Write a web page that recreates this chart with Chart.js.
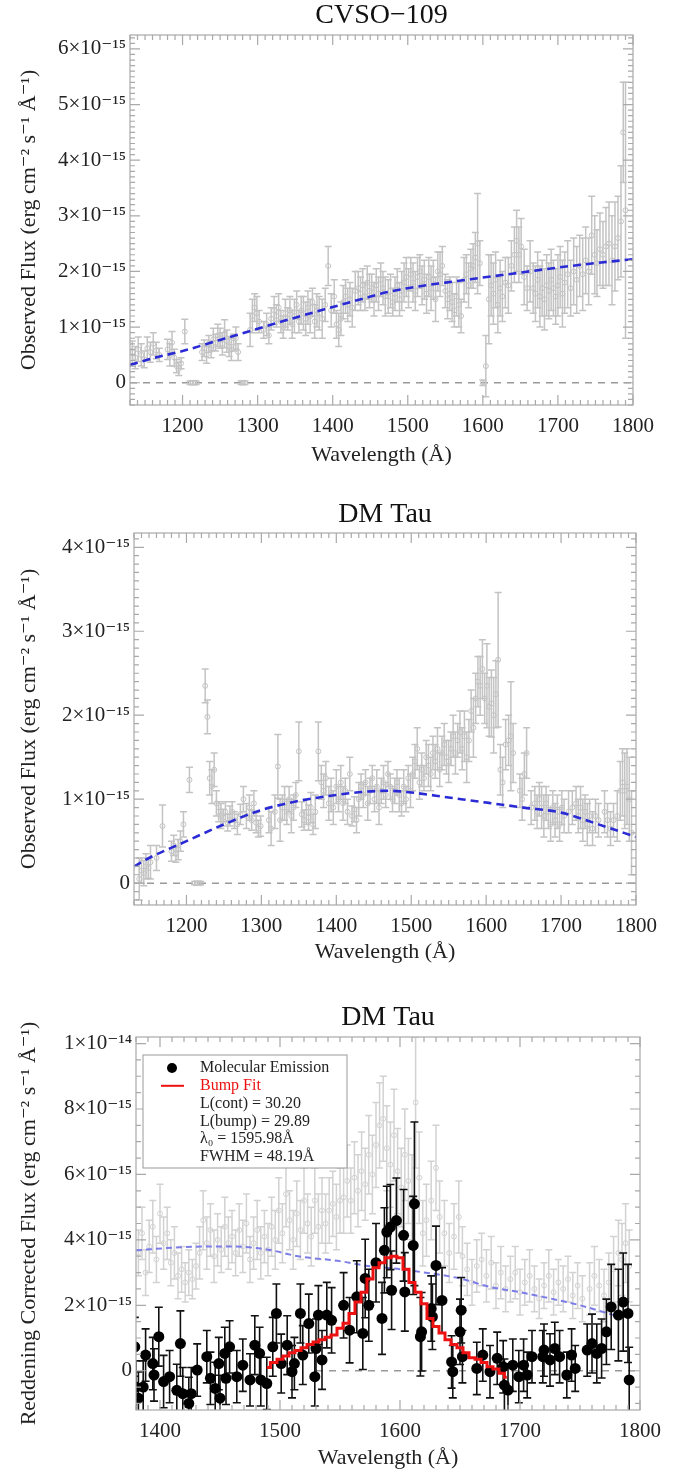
<!DOCTYPE html>
<html>
<head>
<meta charset="utf-8">
<script src="https://cdn.jsdelivr.net/npm/chart.js@4.4.1/dist/chart.umd.min.js"></script>
<style>
  html, body { margin: 0; padding: 0; background: #fff; width: 694px; height: 1474px; overflow: hidden; }
  canvas { position: absolute; left: 0; }
</style>
</head>
<body>
<canvas id="c1" width="694" height="468" style="top:0px"></canvas>
<canvas id="c2" width="694" height="485" style="top:480px"></canvas>
<canvas id="c3" width="694" height="506" style="top:965px"></canvas>
<script>
// flux values are in units of 1e-15 erg cm^-2 s^-1 A^-1

// --- CVSO-109, observed spectrum ---
const cvsoWave = [1133,1137,1141,1145,1149,1153,1157,1161,1165,1169,
  1180,1183,1186,1189,1192,1195,1198,1203,1210,1214,
  1218,1226,1229,1232,1235,1238,1241,1244,1247,1250,
  1253,1256,1259,1262,1265,1268,1271,1274,1278,1283,
  1290,1293,1296,1299,1302,1308,1312,1315,1318,1322,
  1325,1328,1331,1334,1337,1340,1343,1346,1349,1352,
  1355,1358,1361,1364,1367,1370,1373,1376,1379,1382,
  1386,1390,1394,1398,1402,1405,1408,1411,1414,1417,
  1420,1423,1426,1430,1434,1437,1440,1443,1446,1449,
  1452,1455,1458,1461,1464,1467,1470,1474,1477,1480,
  1483,1486,1489,1492,1495,1498,1501,1504,1507,1510,
  1513,1516,1519,1522,1525,1528,1531,1534,1537,1540,
  1543,1546,1550,1553,1556,1559,1562,1565,1568,1571,
  1575,1578,1581,1584,1587,1590,1593,1596,1600,1604,
  1608,1611,1614,1617,1620,1623,1626,1630,1634,1638,
  1642,1645,1648,1651,1655,1659,1663,1667,1670,1673,
  1676,1679,1682,1685,1688,1691,1694,1697,1700,1703,
  1706,1709,1713,1717,1721,1725,1729,1733,1737,1741,
  1745,1749,1752,1756,1760,1764,1768,1772,1776,1780,
  1784,1787,1790];
const cvsoFlux = [0.55,0.45,0.60,0.50,0.42,0.62,0.55,0.70,0.58,0.50,
  0.60,0.50,0.72,0.45,0.30,0.25,0.35,0.92,0.00,0.00,
  0.00,0.55,0.62,0.50,0.70,0.60,0.78,0.72,0.85,0.80,
  0.70,0.88,0.75,0.65,0.60,0.72,0.80,0.55,0.00,0.00,
  0.95,1.20,1.35,1.25,1.10,0.95,1.05,0.85,1.15,1.30,
  1.20,1.35,1.10,1.00,1.25,1.15,1.30,1.05,1.20,1.40,
  1.10,1.30,1.25,1.15,1.35,1.20,1.45,1.10,1.30,1.25,
  1.15,1.40,2.10,1.30,1.55,1.05,0.95,1.15,1.45,1.55,
  1.40,1.50,1.35,1.65,1.70,1.60,1.75,1.55,1.80,1.65,
  1.70,1.50,1.75,1.60,1.85,1.70,1.55,1.55,1.65,1.45,
  1.60,1.75,1.50,1.65,1.80,1.90,1.70,1.95,1.80,1.65,
  1.90,2.00,1.75,1.85,1.60,1.90,1.70,1.85,1.50,2.00,
  1.95,2.10,1.65,1.50,1.60,1.45,1.30,1.55,1.40,1.20,
  1.85,1.95,1.75,2.05,2.10,2.25,2.50,2.15,0.00,0.30,
  1.50,1.75,1.60,1.85,1.40,1.70,1.55,1.80,1.75,2.10,
  2.30,2.55,2.30,2.45,1.90,1.70,2.00,1.70,1.60,1.85,
  1.55,1.70,1.50,1.75,1.65,1.85,1.70,1.55,1.75,1.90,
  1.60,1.80,1.95,1.70,2.00,1.85,2.10,1.95,2.20,2.00,
  2.65,2.30,2.15,2.40,2.30,2.45,2.50,2.20,2.45,2.60,
  2.90,4.50,3.10];
const cvsoErr = [0.20,0.20,0.22,0.20,0.15,0.20,0.18,0.20,0.15,0.12,
  0.18,0.20,0.20,0.15,0.12,0.12,0.10,0.22,0.03,0.03,
  0.03,0.15,0.15,0.15,0.15,0.15,0.20,0.15,0.20,0.18,
  0.20,0.25,0.20,0.18,0.20,0.15,0.20,0.15,0.03,0.03,
  0.30,0.30,0.25,0.30,0.20,0.15,0.20,0.15,0.20,0.25,
  0.20,0.25,0.20,0.20,0.25,0.20,0.25,0.25,0.30,0.25,
  0.20,0.25,0.30,0.30,0.30,0.30,0.25,0.30,0.30,0.30,
  0.35,0.30,0.35,0.30,0.30,0.25,0.30,0.30,0.30,0.30,
  0.30,0.30,0.35,0.35,0.30,0.30,0.30,0.25,0.30,0.30,
  0.25,0.30,0.30,0.30,0.30,0.30,0.35,0.30,0.30,0.25,
  0.30,0.30,0.30,0.35,0.35,0.35,0.35,0.30,0.35,0.35,
  0.35,0.30,0.35,0.35,0.35,0.35,0.40,0.35,0.40,0.35,
  0.40,0.35,0.30,0.35,0.30,0.35,0.30,0.35,0.40,0.30,
  0.40,0.35,0.40,0.35,0.40,0.45,0.90,0.40,0.05,0.55,
  0.80,0.55,0.55,0.50,0.50,0.50,0.45,0.45,0.50,0.45,
  0.50,0.55,0.50,0.50,0.50,0.40,0.55,0.45,0.50,0.50,
  0.55,0.50,0.55,0.55,0.50,0.55,0.50,0.50,0.55,0.55,
  0.60,0.55,0.60,0.50,0.60,0.60,0.55,0.65,0.60,0.60,
  0.70,0.70,0.60,0.65,0.60,0.70,0.75,0.80,0.80,0.75,
  1.00,0.90,2.30];
const cvsoModelWave = [1130,1160,1200,1250,1300,1350,1400,1440,1470,1500,1550,1600,1650,1700,1750,1800];
const cvsoModelFlux = [0.32,0.44,0.57,0.77,0.97,1.17,1.36,1.51,1.62,1.70,1.80,1.89,1.98,2.07,2.15,2.22];

// --- DM Tau, observed spectrum ---
const dmWave = [1137,1140,1143,1146,1149,1152,1160,1168,1180,1183,
  1186,1189,1192,1196,1204,1211,1215,1219,1225,1228,
  1231,1234,1237,1240,1243,1246,1249,1252,1255,1258,
  1261,1264,1268,1272,1276,1280,1284,1287,1290,1293,
  1296,1299,1310,1313,1318,1322,1325,1328,1331,1334,
  1337,1340,1343,1346,1350,1354,1357,1360,1363,1366,
  1369,1372,1376,1380,1383,1386,1390,1393,1396,1400,
  1403,1406,1409,1412,1415,1418,1421,1424,1427,1430,
  1433,1436,1439,1442,1445,1448,1451,1454,1457,1460,
  1463,1466,1469,1472,1475,1478,1481,1484,1487,1490,
  1493,1496,1499,1502,1505,1508,1511,1514,1517,1520,
  1523,1526,1529,1532,1535,1538,1541,1544,1547,1550,
  1553,1556,1559,1562,1565,1568,1571,1574,1577,1580,
  1583,1586,1589,1592,1595,1598,1601,1604,1607,1610,
  1613,1616,1619,1622,1626,1630,1633,1636,1645,1648,
  1651,1654,1660,1665,1668,1671,1674,1677,1680,1683,
  1686,1689,1692,1695,1698,1701,1704,1710,1715,1720,
  1723,1726,1729,1732,1735,1738,1742,1746,1750,1758,
  1762,1766,1770,1775,1779,1782,1785,1788,1791,1794];
const dmFlux = [0.05,0.15,0.12,0.20,0.18,0.25,0.30,0.68,0.38,0.45,
  0.35,0.40,0.50,0.70,1.23,0.00,0.00,0.00,2.35,1.98,
  1.25,1.15,1.35,0.95,0.85,0.80,0.78,0.85,0.72,0.80,
  0.85,0.75,0.70,0.82,1.00,0.80,0.90,0.75,0.95,0.72,
  0.65,0.68,0.75,0.65,0.85,1.39,0.75,0.90,0.95,0.85,
  1.00,0.80,0.90,1.05,1.57,0.82,0.75,0.85,0.78,0.90,
  0.70,0.85,1.57,1.20,1.10,1.25,0.95,1.05,0.90,1.15,
  1.00,1.20,0.95,1.10,0.85,1.30,0.80,0.88,0.75,1.00,
  1.15,1.05,1.20,0.95,1.10,1.25,1.00,1.15,0.90,1.10,
  1.20,1.05,1.30,1.15,1.00,1.10,1.20,1.05,0.95,1.15,
  1.00,1.25,1.10,1.30,1.45,1.60,1.20,1.35,1.25,1.50,
  1.40,1.30,1.55,1.45,1.60,1.35,1.55,1.65,1.50,1.45,
  1.60,1.75,1.55,1.70,1.80,1.60,1.75,1.50,1.70,2.05,
  1.85,2.20,2.40,2.35,2.55,2.20,2.35,2.10,2.14,2.00,
  2.25,2.66,1.35,1.20,1.65,1.70,1.75,1.55,1.10,1.00,
  1.30,1.55,0.90,0.95,0.85,1.00,0.90,0.80,0.95,0.85,
  0.70,0.90,0.75,0.85,0.70,0.90,0.80,0.85,0.90,0.95,
  0.80,0.90,0.75,0.85,0.70,0.80,0.65,0.80,0.75,0.85,
  0.75,0.65,0.75,0.80,1.10,1.20,1.10,1.15,1.00,0.60];
const dmErr = [0.25,0.15,0.15,0.15,0.12,0.20,0.15,0.25,0.12,0.12,
  0.10,0.12,0.12,0.15,0.15,0.02,0.02,0.02,0.20,0.20,
  0.20,0.20,0.20,0.15,0.12,0.15,0.10,0.12,0.10,0.12,
  0.12,0.10,0.12,0.12,0.15,0.15,0.15,0.12,0.15,0.12,
  0.10,0.12,0.15,0.20,0.20,0.38,0.25,0.15,0.20,0.15,
  0.15,0.20,0.15,0.15,0.35,0.15,0.12,0.15,0.15,0.18,
  0.12,0.20,0.35,0.20,0.20,0.20,0.20,0.20,0.20,0.20,
  0.15,0.20,0.20,0.15,0.15,0.20,0.12,0.15,0.15,0.20,
  0.15,0.15,0.15,0.20,0.15,0.15,0.15,0.20,0.20,0.15,
  0.20,0.15,0.15,0.15,0.15,0.15,0.15,0.20,0.15,0.20,
  0.15,0.15,0.20,0.20,0.20,0.25,0.20,0.20,0.15,0.20,
  0.25,0.20,0.20,0.20,0.25,0.20,0.20,0.25,0.20,0.25,
  0.20,0.25,0.25,0.20,0.25,0.25,0.30,0.30,0.25,0.25,
  0.35,0.30,0.30,0.35,0.35,0.30,0.50,0.35,0.40,0.45,
  0.40,0.80,0.30,0.30,0.30,0.30,0.65,0.35,0.20,0.25,
  0.25,0.30,0.20,0.20,0.20,0.20,0.25,0.25,0.20,0.20,
  0.20,0.20,0.20,0.20,0.20,0.20,0.20,0.25,0.20,0.20,
  0.20,0.25,0.25,0.20,0.25,0.20,0.20,0.20,0.20,0.25,
  0.20,0.20,0.20,0.30,0.35,0.40,0.45,0.45,0.50,0.50];
const dmModelWave = [1130,1150,1200,1250,1300,1350,1400,1440,1470,1500,1550,1600,1650,1700,1750,1800];
const dmModelFlux = [0.20,0.30,0.50,0.70,0.87,0.98,1.05,1.09,1.10,1.08,1.02,0.96,0.90,0.84,0.70,0.55];

// --- DM Tau, reddening corrected (grey) ---
const corrWave = [1382,1385,1388,1391,1394,1397,1400,1403,1406,1409,
  1412,1415,1418,1421,1424,1427,1430,1433,1436,1439,
  1442,1445,1448,1451,1454,1457,1460,1463,1466,1469,
  1472,1475,1478,1481,1484,1487,1490,1493,1496,1499,
  1502,1505,1508,1511,1514,1517,1520,1523,1526,1529,
  1532,1535,1538,1541,1544,1547,1550,1553,1556,1559,
  1562,1565,1568,1571,1574,1577,1580,1583,1586,1589,
  1592,1595,1598,1601,1604,1607,1610,1613,1616,1619,
  1622,1626,1630,1633,1637,1641,1645,1649,1652,1656,
  1660,1664,1668,1672,1676,1680,1684,1688,1692,1696,
  1700,1704,1708,1712,1716,1720,1724,1728,1732,1736,
  1740,1744,1748,1752,1758,1762,1766,1770,1774,1778,
  1782,1785,1788,1791];
const corrFlux = [3.6,4.2,3.0,3.8,4.4,3.4,4.8,3.9,4.2,3.3,
  3.6,2.9,3.1,2.7,3.0,2.8,3.2,3.6,4.6,3.9,
  4.3,3.5,4.0,3.7,4.4,3.9,4.1,3.6,4.3,3.8,
  4.5,3.4,3.9,4.3,3.6,4.1,3.7,4.4,4.0,4.9,
  4.2,5.4,4.6,4.0,4.8,4.3,5.2,4.5,4.1,5.2,
  4.4,4.9,4.5,4.9,5.1,4.7,5.2,5.3,5.8,5.2,
  5.9,5.5,6.1,5.7,6.6,6.0,6.9,7.5,7.7,6.8,
  6.3,7.2,6.1,5.6,6.6,5.8,5.3,8.2,5.9,4.2,
  4.6,5.2,6.2,4.7,4.2,3.6,4.1,4.7,3.5,3.1,
  2.7,3.2,3.4,2.9,3.3,2.6,3.0,2.5,2.8,3.0,
  2.4,2.7,2.9,2.5,2.2,2.6,2.9,2.4,2.7,2.5,
  2.8,2.3,2.6,2.2,2.5,2.9,2.6,2.3,2.7,3.1,
  3.6,3.4,3.9,3.2];
const corrErr = [0.7,0.8,0.7,0.8,0.8,0.7,0.9,0.8,0.8,0.7,
  0.8,0.7,0.7,0.6,0.7,0.6,0.7,0.8,0.9,0.8,
  0.8,0.8,0.8,0.7,0.9,0.8,0.8,0.7,0.8,0.8,
  0.9,0.7,0.8,0.9,0.8,0.8,0.8,0.9,0.9,1.0,
  0.9,1.0,0.9,0.9,1.0,0.9,1.0,0.9,0.9,1.0,
  1.0,1.0,0.9,1.0,1.0,1.0,1.0,1.1,1.1,1.0,
  1.1,1.1,1.2,1.1,1.2,1.2,1.3,1.3,1.3,1.3,
  1.3,1.4,1.3,1.2,1.4,1.3,1.3,2.0,1.4,1.0,
  1.1,1.2,1.3,1.1,1.0,0.9,1.0,1.1,0.9,0.8,
  0.7,0.8,0.8,0.8,0.8,0.7,0.8,0.7,0.7,0.8,
  0.7,0.7,0.8,0.7,0.6,0.7,0.8,0.7,0.7,0.7,
  0.7,0.7,0.7,0.7,0.8,0.9,0.8,0.8,0.9,1.0,
  1.0,1.1,1.2,1.1];
const corrModelWave = [1380,1420,1460,1490,1515,1550,1570,1600,1650,1675,1700,1720,1750,1778];
const corrModelFlux = [3.68,3.78,3.80,3.70,3.50,3.35,3.22,3.10,2.82,2.56,2.40,2.25,2.00,1.70];

// --- DM Tau, molecular emission (black) ---
const molWave = [1379,1380,1382,1386,1388,1394,1395,1399,1403,1408,
  1414,1417,1419,1424,1426,1431,1439,1442,1446,1449,
  1450,1454,1455,1458,1464,1469,1475,1479,1483,1484,
  1489,1494,1497,1501,1506,1510,1512,1517,1519,1524,
  1529,1530,1532,1535,1539,1543,1553,1558,1564,1569,
  1571,1574,1580,1585,1587,1589,1592,1593,1597,1603,
  1604,1611,1612,1617,1618,1626,1627,1630,1635,1643,
  1644,1650,1651,1652,1664,1669,1675,1681,1686,1687,
  1690,1694,1699,1703,1706,1710,1719,1720,1725,1729,
  1733,1739,1743,1746,1756,1760,1764,1768,1772,1776,
  1782,1786,1790,1791];
const molFlux = [0.73,-0.50,-0.84,-0.50,0.48,0.22,-0.13,1.04,-0.33,-0.18,
  -0.60,0.83,-0.70,-1.00,-0.70,0.02,0.43,-0.23,-0.54,0.22,
  -0.84,0.53,-0.23,0.73,-0.18,0.17,-0.28,0.78,0.53,-0.28,
  -0.39,0.73,1.75,0.22,0.78,-0.03,0.22,1.75,0.48,1.44,
  -0.18,0.68,1.70,0.33,1.70,1.54,2.00,1.24,2.26,1.14,
  2.82,2.00,3.30,1.60,3.68,4.24,4.39,2.46,4.59,4.14,
  2.41,3.83,5.10,1.04,1.19,1.90,1.65,3.22,2.15,0.27,
  -0.03,1.19,1.85,0.43,0.07,0.48,-0.03,0.38,0.12,-0.44,
  -0.59,0.17,-0.18,0.17,-0.13,0.43,0.43,0.63,0.33,0.68,
  0.43,-0.13,0.48,0.07,0.63,0.83,0.53,0.68,1.19,1.95,
  1.70,2.10,1.75,-0.28];
const molErr = [0.9,0.8,0.8,0.8,0.8,0.8,0.8,0.9,0.8,0.8,
  0.8,1.0,0.8,0.8,0.8,0.8,0.8,0.8,0.8,0.8,
  0.7,0.8,0.8,0.8,0.8,0.8,0.8,0.9,0.8,0.8,
  0.8,0.9,0.9,0.9,0.9,0.8,0.8,0.9,0.9,0.9,
  0.9,0.9,0.9,0.9,1.0,1.0,1.0,1.0,1.1,1.1,
  1.2,1.1,1.2,1.1,1.3,1.4,1.3,1.2,1.3,1.4,
  1.2,1.5,2.5,1.2,1.2,1.0,1.0,1.2,1.0,0.8,
  0.8,1.0,1.0,0.8,0.8,0.8,0.8,0.8,0.8,0.8,
  0.8,0.8,0.8,0.8,0.7,0.8,0.8,0.8,0.8,0.8,
  0.8,0.7,0.8,0.7,0.8,0.9,0.9,0.9,1.0,1.3,
  1.4,1.5,1.5,1.0];

// --- bump fit (red step line) ---
const bumpWave = [1489,1495,1500,1505,1510,1515,1520,1525,1530,1535,1540,1545,1550,1555,1560,1565,1570,1575,1580,1585,1590,1595,1600,1605,1610,1615,1620,1625,1630,1635,1640,1645,1650,1655,1660,1665,1670,1675,1680,1685,1689];
const bumpFlux = [0.10,0.25,0.35,0.45,0.55,0.62,0.70,0.80,0.88,0.95,1.02,1.09,1.30,1.45,1.75,2.10,2.40,2.80,3.15,3.30,3.45,3.50,3.45,3.10,2.70,2.40,2.05,1.60,1.35,1.15,0.95,0.80,0.70,0.55,0.40,0.35,0.25,0.12,0.05,-0.08,-0.20];

// axis ticks
const xTicksFull = [1200, 1300, 1400, 1500, 1600, 1700, 1800];
const xTicksZoom = [1400, 1500, 1600, 1700, 1800];
const yTicksCvso = [0, 1, 2, 3, 4, 5, 6];
const yTicksDm = [0, 1, 2, 3, 4];
const yTicksCorr = [0, 2, 4, 6, 8, 10];

const legendLines = ['L(cont) = 30.20', 'L(bump) = 29.89', 'λ₀ = 1595.98Å', 'FWHM = 48.19Å'];

Chart.defaults.font.family = '"Liberation Serif", "DejaVu Serif", serif';
Chart.defaults.color = '#222';

const pts = (xs, ys) => xs.map((x, i) => ({ x, y: ys[i] }));

function fluxLabel(v) {
  if (v === 0) return '0';
  if (v >= 10) return (v / 10) + '×10⁻¹⁴';
  return v + '×10⁻¹⁵';
}

// vertical error bars, drawn just before their own dataset
const errorBars = {
  id: 'errorBars',
  beforeDatasetDraw(chart, args) {
    const ds = chart.data.datasets[args.index];
    if (!ds.errors) return;
    const { ctx, chartArea: a, scales: { y } } = chart;
    ctx.save();
    ctx.beginPath();
    ctx.rect(a.left, a.top, a.width, a.height);
    ctx.clip();
    ctx.strokeStyle = ds.errorColor;
    ctx.lineWidth = ds.errorWidth;
    const cap = ds.errorCap;
    args.meta.data.forEach((p, i) => {
      const v = ds.data[i].y, e = ds.errors[i];
      const lo = y.getPixelForValue(v - e), hi = y.getPixelForValue(v + e);
      ctx.beginPath();
      ctx.moveTo(p.x, lo); ctx.lineTo(p.x, hi);
      ctx.moveTo(p.x - cap, lo); ctx.lineTo(p.x + cap, lo);
      ctx.moveTo(p.x - cap, hi); ctx.lineTo(p.x + cap, hi);
      ctx.stroke();
    });
    ctx.restore();
  }
};

// box frame with inward major/minor ticks on all four sides
const frame = {
  id: 'frame',
  afterDatasetsDraw(chart, args, o) {
    const { ctx, chartArea: a, scales: { x, y } } = chart;
    ctx.save();
    ctx.strokeStyle = '#a9a9a9';
    ctx.lineWidth = 1.2;
    ctx.strokeRect(a.left, a.top, a.width, a.height);
    ctx.beginPath();
    for (let k = Math.ceil(x.min / o.xMinor); k * o.xMinor <= x.max; k++) {
      const v = k * o.xMinor, px = x.getPixelForValue(v);
      const len = o.xMajor.includes(v) ? 10 : 5;
      ctx.moveTo(px, a.bottom); ctx.lineTo(px, a.bottom - len);
      ctx.moveTo(px, a.top); ctx.lineTo(px, a.top + len);
    }
    for (let k = Math.ceil(y.min / o.yMinor - 1e-9); k * o.yMinor <= y.max + 1e-9; k++) {
      const v = Math.round(k * o.yMinor * 1000) / 1000, py = y.getPixelForValue(v);
      const len = o.yMajor.includes(v) ? 10 : 5;
      ctx.moveTo(a.left, py); ctx.lineTo(a.left + len, py);
      ctx.moveTo(a.right, py); ctx.lineTo(a.right - len, py);
    }
    ctx.stroke();
    ctx.restore();
  }
};

// boxed legend with fit parameters (bottom panel only)
const fitLegend = {
  id: 'fitLegend',
  afterDatasetsDraw(chart, args, o) {
    if (!o.show) return;
    const { ctx, chartArea: a } = chart;
    const bx = a.left + 7, by = a.top + 18, bw = 204, bh = 113;
    ctx.save();
    ctx.fillStyle = '#fff';
    ctx.fillRect(bx, by, bw, bh);
    ctx.strokeStyle = '#999';
    ctx.lineWidth = 1;
    ctx.strokeRect(bx, by, bw, bh);
    ctx.font = '16px "Liberation Serif", serif';
    ctx.textBaseline = 'middle';
    const tx = bx + 57, step = 17.8;
    let ty = by + 13;
    ctx.fillStyle = '#000';
    ctx.beginPath(); ctx.arc(bx + 29, ty, 5, 0, Math.PI * 2); ctx.fill();
    ctx.fillStyle = '#222';
    ctx.fillText('Molecular Emission', tx, ty);
    ty += step;
    ctx.strokeStyle = '#ee1111'; ctx.lineWidth = 2;
    ctx.beginPath(); ctx.moveTo(bx + 18, ty); ctx.lineTo(bx + 41, ty); ctx.stroke();
    ctx.fillStyle = '#ee1111';
    ctx.fillText('Bump Fit', tx, ty);
    ctx.fillStyle = '#222';
    o.lines.forEach(t => { ty += step; ctx.fillText(t, tx, ty); });
    ctx.restore();
  }
};

function panel(id, p) {
  return new Chart(document.getElementById(id), {
    type: 'scatter',
    data: { datasets: p.datasets },
    options: {
      responsive: false,
      animation: false,
      layout: { padding: { left: 0, right: p.right, top: 0, bottom: 0 } },
      plugins: {
        legend: { display: false },
        tooltip: { enabled: false },
        title: {
          display: true, text: p.title, fullSize: false, color: '#111',
          font: { size: 28, weight: 'normal', lineHeight: 1 },
          padding: { top: p.titleTop, bottom: p.titleBottom }
        },
        frame: { xMinor: p.xMinor, yMinor: p.yMinor, xMajor: p.xTicks, yMajor: p.yTicks },
        fitLegend: { show: !!p.legend, lines: legendLines }
      },
      scales: {
        x: {
          type: 'linear', min: p.xMin, max: p.xMax,
          afterBuildTicks: s => { s.ticks = p.xTicks.map(v => ({ value: v })); },
          afterFit: s => { s.height = p.xHeight; },
          grid: { display: false, drawTicks: false },
          border: { display: false },
          ticks: { color: '#222', font: { size: 21 }, padding: 9, maxRotation: 0, callback: v => String(v) },
          title: { display: true, text: 'Wavelength (Å)', color: '#222', font: { size: 22 }, padding: { top: 0, bottom: 0 } }
        },
        y: {
          type: 'linear', min: p.yMin, max: p.yMax,
          afterBuildTicks: s => { s.ticks = p.yTicks.map(v => ({ value: v })); },
          afterFit: s => { s.width = p.left; },
          grid: { display: false, drawTicks: false },
          border: { display: false },
          ticks: { color: '#222', font: { size: 21 }, padding: 4, callback: fluxLabel },
          title: { display: true, text: p.yTitle, color: '#222', font: { size: 22 }, padding: { top: 16, bottom: 0 } }
        }
      }
    },
    plugins: [errorBars, frame, fitLegend]
  });
}

const greyPoints = (xs, ys, es, col) => ({
  data: pts(xs, ys), errors: es, errorColor: col, errorWidth: 1.5, errorCap: 3.5,
  pointRadius: 2.5, pointBorderWidth: 1, pointBorderColor: col, pointBackgroundColor: 'rgba(0,0,0,0)'
});
const dashed = (xs, ys, col, w, dash) => ({
  data: pts(xs, ys), showLine: true, pointRadius: 0, borderColor: col, borderWidth: w,
  borderDash: dash, tension: 0.4, cubicInterpolationMode: 'monotone'
});
const zeroLine = (x0, x1) => ({
  data: [{ x: x0, y: 0 }, { x: x1, y: 0 }], showLine: true, pointRadius: 0,
  borderColor: '#999', borderWidth: 1.5, borderDash: [7, 6]
});

const obsTitle = 'Observed Flux (erg cm⁻² s⁻¹ Å⁻¹)';

panel('c1', {
  title: 'CVSO−109', titleTop: 2, titleBottom: 5,
  left: 130, right: 61, xHeight: 63,
  xMin: 1130, xMax: 1800, yMin: -0.4, yMax: 6.25,
  xTicks: xTicksFull, yTicks: yTicksCvso, xMinor: 10, yMinor: 0.1,
  yTitle: obsTitle,
  datasets: [
    dashed(cvsoModelWave, cvsoModelFlux, '#2b2bd6', 2.6, [8, 5]),
    greyPoints(cvsoWave, cvsoFlux, cvsoErr, '#c3c3c3'),
    zeroLine(1130, 1800)
  ]
});

panel('c2', {
  title: 'DM Tau', titleTop: 21, titleBottom: 4,
  left: 134, right: 58, xHeight: 60,
  xMin: 1130, xMax: 1800, yMin: -0.26, yMax: 4.17,
  xTicks: xTicksFull, yTicks: yTicksDm, xMinor: 10, yMinor: 0.1,
  yTitle: obsTitle,
  datasets: [
    dashed(dmModelWave, dmModelFlux, '#2b2bd6', 2.6, [8, 5]),
    greyPoints(dmWave, dmFlux, dmErr, '#c3c3c3'),
    zeroLine(1130, 1800)
  ]
});

panel('c3', {
  title: 'DM Tau', titleTop: 39, titleBottom: 5,
  left: 136, right: 54, xHeight: 61,
  xMin: 1380, xMax: 1800, yMin: -1.2, yMax: 10.2,
  xTicks: xTicksZoom, yTicks: yTicksCorr, xMinor: 10, yMinor: 0.5,
  yTitle: 'Reddening Corrected Flux (erg cm⁻² s⁻¹ Å⁻¹)',
  legend: true,
  datasets: [
    { data: pts(bumpWave, bumpFlux), showLine: true, stepped: 'middle', pointRadius: 0,
      borderColor: '#ee1111', borderWidth: 3 },
    { data: pts(molWave, molFlux), errors: molErr, errorColor: '#111', errorWidth: 1.6, errorCap: 4,
      pointRadius: 5.5, pointBorderWidth: 0, pointBackgroundColor: '#000', pointBorderColor: '#000' },
    zeroLine(1530, 1800),
    dashed(corrModelWave, corrModelFlux, '#7d7de8', 2, [6, 4]),
    greyPoints(corrWave, corrFlux, corrErr, '#d2d2d2')
  ]
});
</script>
</body>
</html>
